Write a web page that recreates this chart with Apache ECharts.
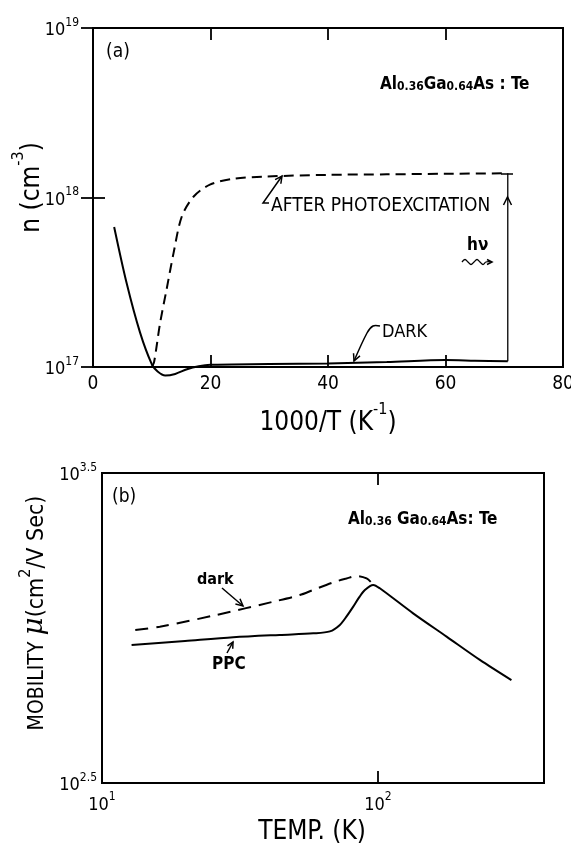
<!DOCTYPE html>
<html>
<head>
<meta charset="utf-8">
<script src="https://cdn.jsdelivr.net/npm/echarts@6/dist/echarts.min.js"></script>
<style>
  html, body { margin: 0; background: #fff; }
  #chart { width: 571px; height: 855px; }
</style>
</head>
<body>
<div id="chart"></div>
<script>
// (a) carrier density vs 1000/T
var invT_dark = [3.6, 5.7, 8.0, 10.0, 11.0, 12.3, 14.0, 16.0, 18.0, 20.0, 30.0, 40.0, 50.0, 60.0, 65.0, 70.6]
var n_dark = [6.7e17, 3.15e17, 1.6e17, 1.04e17, 0.94e17, 0.89e17, 0.91e17, 0.97e17, 1.01e17, 1.03e17, 1.04e17, 1.05e17, 1.07e17, 1.10e17, 1.09e17, 1.08e17]
var invT_photo = [10.0, 10.4, 11.4, 12.5, 13.7, 15.1, 17.1, 19.9, 23.9, 29.5, 40.0, 50.0, 60.0, 70.6]
var n_photo = [1.0e17, 1.07e17, 1.8e17, 2.84e17, 4.68e17, 7.7e17, 1.01e18, 1.19e18, 1.29e18, 1.33e18, 1.36e18, 1.37e18, 1.38e18, 1.39e18]
var invT_arrow = [70.6, 70.6]
var n_arrow = [1.08e17, 1.39e18]
var xTicksA = [0, 20, 40, 60, 80]

// (b) mobility vs temperature
var T_dark = [13.2, 16.2, 26.0, 41.8, 52.1, 58.3, 70.0, 77.0, 83.7, 91.0, 95.5]
var mu_dark = [985, 1009, 1102, 1216, 1277, 1327, 1410, 1445, 1472, 1445, 1390]
var T_ppc = [12.8, 20.0, 29.9, 44.0, 58.3, 67.0, 72.8, 77.0, 81.4, 85.5, 89.7, 96.2, 101.6, 134.2, 177.4, 234.2, 304.8]
var mu_ppc = [881, 908, 933, 950, 961, 975, 1023, 1090, 1172, 1255, 1327, 1377, 1343, 1115, 938, 789, 679]

var FONT = '"DejaVu Sans Condensed","DejaVu Sans",sans-serif'
var rich = {
  b: { fontSize: 18, lineHeight: 23, verticalAlign: 'bottom', fontFamily: FONT, color: '#000' },
  s: { fontSize: 12, lineHeight: 12, verticalAlign: 'top', fontFamily: FONT, color: '#000' },
  t: { fontSize: 26, lineHeight: 34, verticalAlign: 'bottom', fontFamily: FONT, color: '#000' },
  ts: { fontSize: 16, lineHeight: 16, verticalAlign: 'top', fontFamily: FONT, color: '#000' },
  t2: { fontSize: 23, lineHeight: 30, verticalAlign: 'bottom', fontFamily: FONT, color: '#000' },
  t3: { fontSize: 21, lineHeight: 30, verticalAlign: 'bottom', fontFamily: FONT, color: '#000' },
  m: { fontSize: 28, lineHeight: 30, verticalAlign: 'bottom', fontFamily: 'DejaVu Serif', fontStyle: 'italic', color: '#000' },
  sub: { fontSize: 12, lineHeight: 10, verticalAlign: 'bottom', fontFamily: FONT, color: '#000', fontWeight: 'bold' },
  big: { fontSize: 17, lineHeight: 26, verticalAlign: 'bottom', fontFamily: FONT, color: '#000', fontWeight: 'bold' }
}

function pair(xs, ys) {
  return xs.map(function (x, i) { return [x, ys[i]] })
}
function near(v, target) {
  return Math.abs(v - target) / target < 0.01
}

var chart = echarts.init(document.getElementById('chart'), null, { renderer: 'canvas' })

var tickStyle = { show: true, inside: true, length: 12, lineStyle: { color: '#000', width: 1.8 } }
var noLine = { show: false }

var option = {
  backgroundColor: '#fff',
  animation: false,
  grid: [
    { left: 93, top: 28, width: 470, height: 339, show: true, borderColor: '#000', borderWidth: 2, outerBoundsMode: 'none', containLabel: false },
    { left: 102, top: 473, width: 442, height: 310, show: true, borderColor: '#000', borderWidth: 2, outerBoundsMode: 'none', containLabel: false }
  ],
  xAxis: [
    {
      gridIndex: 0, type: 'value', min: 0, max: 80, interval: 20,
      axisLine: noLine, splitLine: noLine, axisTick: tickStyle,
      axisLabel: {
        margin: 8, fontSize: 19, fontFamily: FONT, color: '#000',
        formatter: function (v) { return xTicksA.indexOf(v) >= 0 ? String(v) : '' }
      },
      name: '{t|1000/T (K}{ts|-1}{t|)}', nameLocation: 'middle', nameGap: 35,
      nameTextStyle: { rich: rich }
    },
    {
      gridIndex: 0, type: 'value', min: 0, max: 80, interval: 20, position: 'top',
      axisLine: noLine, splitLine: noLine, axisTick: tickStyle, axisLabel: { show: false }
    },
    {
      gridIndex: 1, type: 'log', logBase: 10, min: 10, max: 400,
      axisLine: noLine, splitLine: noLine, minorTick: { show: false },
      axisTick: tickStyle,
      axisLabel: {
        margin: 8, rich: rich, showMinLabel: true, showMaxLabel: false,
        formatter: function (v) {
          if (near(v, 10)) return '{b|10}{s|1}'
          if (near(v, 100)) return '{b|10}{s|2}'
          return ''
        }
      },
      name: 'TEMP. (K)', nameLocation: 'middle', nameGap: 36,
      nameTextStyle: { fontSize: 26, fontFamily: FONT, color: '#000', padding: [0, 22, 0, 0] }
    },
    {
      gridIndex: 1, type: 'log', logBase: 10, min: 10, max: 400, position: 'top',
      axisLine: noLine, splitLine: noLine, axisTick: tickStyle, axisLabel: { show: false }
    }
  ],
  yAxis: [
    {
      gridIndex: 0, type: 'log', logBase: 10, min: 1e17, max: 1e19,
      axisLine: noLine, splitLine: noLine, axisTick: tickStyle,
      axisLabel: {
        margin: 14, rich: rich, showMinLabel: true, showMaxLabel: true,
        formatter: function (v) { return '{b|10}{s|' + Math.round(Math.log10(v)) + '}' }
      },
      name: '{t|n (cm}{ts|-3}{t|)}', nameLocation: 'middle', nameGap: 48, nameRotate: 90, nameMoveOverlap: false,
      nameTextStyle: { rich: rich, padding: [0, 0, 0, 20] }
    },
    {
      gridIndex: 0, type: 'log', logBase: 10, min: 1e17, max: 1e19, position: 'right',
      axisLine: noLine, splitLine: noLine, axisTick: tickStyle, axisLabel: { show: false }
    },
    {
      gridIndex: 1, type: 'log', logBase: 10, min: Math.pow(10, 2.5), max: Math.pow(10, 3.5),
      axisLine: noLine, splitLine: noLine, axisTick: { show: false }, minorTick: { show: false },
      axisLabel: {
        margin: 5, rich: rich, showMinLabel: true, showMaxLabel: true,
        formatter: function (v) {
          if (near(v, Math.pow(10, 2.5))) return '{b|10}{s|2.5}'
          if (near(v, Math.pow(10, 3.5))) return '{b|10}{s|3.5}'
          return ''
        }
      },
      name: '{t3|MOBILITY }{m|μ}{t2|(cm}{ts|2}{t2|/V Sec)}', nameLocation: 'middle', nameGap: 46, nameRotate: 90,
      nameTextStyle: { rich: rich, padding: [0, 0, 0, 30] }
    }
  ],
  series: [
    {
      name: 'dark', type: 'line', xAxisIndex: 0, yAxisIndex: 0, data: pair(invT_dark, n_dark),
      smooth: 0.3, showSymbol: false, clip: false,
      lineStyle: { color: '#000', width: 2 }
    },
    {
      name: 'after photoexcitation', type: 'line', xAxisIndex: 0, yAxisIndex: 0, data: pair(invT_photo, n_photo),
      smooth: 0.3, showSymbol: false,
      lineStyle: { color: '#000', width: 2, type: [10, 6] }
    },
    {
      name: 'hv', type: 'line', xAxisIndex: 0, yAxisIndex: 0, data: pair(invT_arrow, n_arrow),
      showSymbol: false, lineStyle: { color: '#000', width: 1.3 }
    },
    {
      name: 'dark mobility', type: 'line', xAxisIndex: 2, yAxisIndex: 2, data: pair(T_dark, mu_dark),
      smooth: 0.3, showSymbol: false,
      lineStyle: { color: '#000', width: 2, type: [13, 8] }
    },
    {
      name: 'PPC', type: 'line', xAxisIndex: 2, yAxisIndex: 2, data: pair(T_ppc, mu_ppc),
      smooth: 0.3, showSymbol: false,
      lineStyle: { color: '#000', width: 2 }
    }
  ]
}
chart.setOption(option)

// annotations
function txt(x, y, text, size, extra) {
  var st = { text: text, x: x, y: y, fill: '#000', fontSize: size, fontFamily: FONT, textVerticalAlign: 'middle' }
  if (extra) for (var k in extra) st[k] = extra[k]
  return { type: 'text', z: 10, style: st }
}
function poly(points, w, smooth) {
  return { type: 'polyline', z: 10, shape: { points: points, smooth: smooth || 0 }, style: { stroke: '#000', lineWidth: w || 1.5, fill: null } }
}
function head(tip, from, len) {
  var dx = tip[0] - from[0], dy = tip[1] - from[1]
  var d = Math.sqrt(dx * dx + dy * dy)
  var ux = dx / d, uy = dy / d
  var l = len || 6
  var a = [tip[0] - l * ux + l * 0.5 * uy, tip[1] - l * uy - l * 0.5 * ux]
  var b = [tip[0] - l * ux - l * 0.5 * uy, tip[1] - l * uy + l * 0.5 * ux]
  return poly([a, tip, b], 1.5)
}

chart.setOption({
  graphic: [
    txt(106, 52, '(a)', 19),
    { type: 'text', z: 10, style: { x: 380, y: 80, text: '{big|Al}{sub|0.36}{big|Ga}{sub|0.64}{big|As : Te}', rich: rich, textVerticalAlign: 'middle' } },
    txt(271, 206, 'AFTER PHOTOEXCITATION', 19),
    poly([[269, 203], [263, 203], [282, 176]], 1.5),
    head([282, 176], [263, 203], 7),
    txt(382, 332, 'DARK', 18),
    poly([[380, 326], [373, 326], [367, 333], [354, 361]], 1.5, 0.3),
    head([354, 361], [360, 347], 7),
    txt(467, 246, 'hν', 17, { fontWeight: 'bold' }),
    poly([[462, 262], [465, 259.5], [468, 262], [471, 264.5], [474, 262], [477, 259.5], [480, 262], [483, 264.5], [486, 262], [491, 262]], 1.3, 0.4),
    head([492, 262], [485, 262], 5),
    poly([[501, 174], [513, 174]], 1.5),
    head([507.5, 197], [507.5, 210], 8),
    txt(112, 497, '(b)', 19),
    { type: 'text', z: 10, style: { x: 348, y: 515, text: '{big|Al}{sub|0.36}{big| Ga}{sub|0.64}{big|As: Te}', rich: rich, textVerticalAlign: 'middle' } },
    txt(197, 580, 'dark', 16, { fontWeight: 'bold' }),
    poly([[222, 588], [243, 606]], 1.5),
    head([243, 606], [222, 588], 7),
    txt(212, 665, 'PPC', 17, { fontWeight: 'bold' }),
    poly([[227, 653], [233, 642]], 1.5),
    head([233, 642], [227, 653], 6)
  ]
})
</script>
</body>
</html>
